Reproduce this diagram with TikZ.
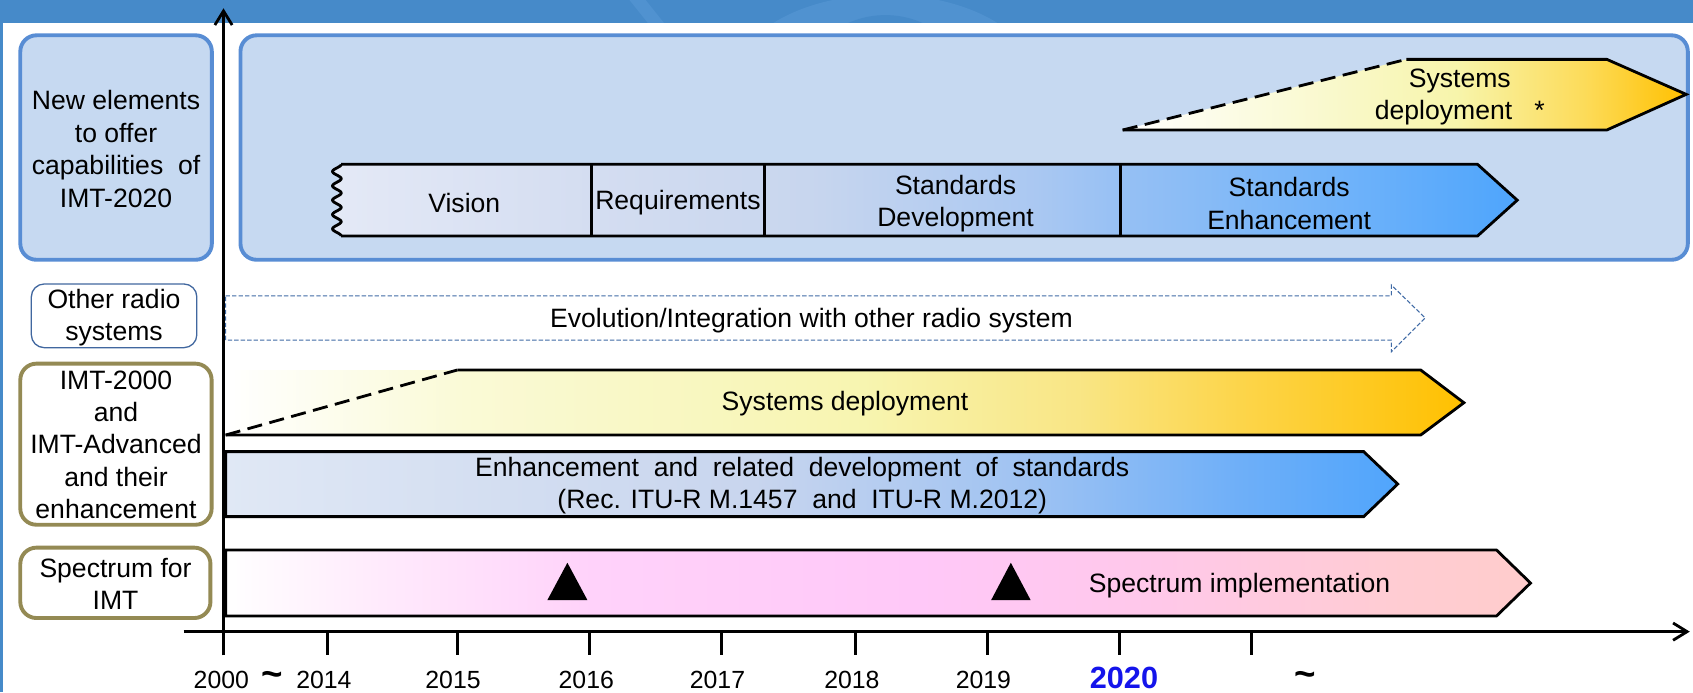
\documentclass[tikz,border=0pt]{standalone}
\usepackage{fontspec}
\setmainfont{Liberation Sans}
\usetikzlibrary{arrows.meta}
\definecolor{band}{RGB}{70,138,201}
\definecolor{bandlight}{RGB}{80,146,208}
\definecolor{boxfill}{RGB}{198,217,241}
\definecolor{boxline}{RGB}{88,141,212}
\definecolor{olive}{RGB}{148,138,84}
\definecolor{otherline}{RGB}{65,103,159}
\definecolor{evoline}{RGB}{63,106,165}
\definecolor{yearblue}{RGB}{20,20,235}
\pgfdeclarehorizontalshading{sdlow}{100bp}{rgb(0bp)=(1,1,1); rgb(25bp)=(1,1,1); rgb(34.6bp)=(0.98,0.98,0.84); rgb(50.8bp)=(0.97,0.96,0.69); rgb(59.5bp)=(0.976,0.90,0.52); rgb(66bp)=(0.99,0.835,0.29); rgb(75bp)=(1,0.753,0); rgb(100bp)=(1,0.753,0)}
\pgfdeclarehorizontalshading{sdtop}{100bp}{rgb(0bp)=(1,1,1); rgb(25bp)=(1,1,1); rgb(40bp)=(0.98,0.98,0.84); rgb(54.7bp)=(0.97,0.96,0.67); rgb(66bp)=(0.99,0.86,0.35); rgb(75bp)=(1,0.753,0); rgb(100bp)=(1,0.753,0)}
\pgfdeclarehorizontalshading{enhsh}{100bp}{rgb(0bp)=(0.878,0.91,0.96); rgb(25bp)=(0.878,0.91,0.96); rgb(47.6bp)=(0.784,0.835,0.933); rgb(59bp)=(0.627,0.765,0.949); rgb(68.3bp)=(0.431,0.686,0.973); rgb(75bp)=(0.314,0.647,0.988); rgb(100bp)=(0.314,0.647,0.988)}
\pgfdeclarehorizontalshading{specsh}{100bp}{rgb(0bp)=(1,1,1); rgb(25bp)=(1,1,1); rgb(30.8bp)=(1,0.92,0.988); rgb(39bp)=(1,0.824,0.98); rgb(51.5bp)=(1,0.784,0.973); rgb(60bp)=(1,0.784,0.92); rgb(70bp)=(1,0.8,0.824); rgb(75bp)=(1,0.8,0.8); rgb(100bp)=(1,0.8,0.8)}
\pgfdeclarehorizontalshading{stdsh}{100bp}{rgb(0bp)=(0.894,0.914,0.965); rgb(25bp)=(0.894,0.914,0.965); rgb(35.9bp)=(0.831,0.867,0.945); rgb(45bp)=(0.784,0.839,0.933); rgb(54.7bp)=(0.667,0.784,0.949); rgb(58.3bp)=(0.588,0.753,0.957); rgb(68bp)=(0.431,0.698,0.98); rgb(75bp)=(0.306,0.647,0.988); rgb(100bp)=(0.306,0.647,0.988)}
\begin{document}
\begin{tikzpicture}[x=0.5pt,y=-0.5pt,
  txt/.style={font=\fontsize{12.3}{15}\selectfont, align=center, inner sep=0pt},
  yr/.style={font=\fontsize{11.5}{13}\selectfont, anchor=base, inner sep=0pt},
  tld/.style={font=\fontsize{17}{17}\bfseries, anchor=base, inner sep=0pt},
  outl/.style={line width=1.3pt, line join=miter},
  thickdash/.style={dash pattern=on 7pt off 3.5pt},
  lblblue/.style={draw=boxline, fill=boxfill, line width=1.8pt, rounded corners=7.5pt},
  lblolive/.style={draw=olive, fill=white, line width=1.8pt, rounded corners=7.5pt},
  lblother/.style={draw=otherline, fill=white, line width=0.6pt, rounded corners=6pt},
  evo/.style={draw=evoline, line width=0.5pt, dash pattern=on 2pt off 1pt},
  axisarrow/.style={line width=1.3pt, -{Straight Barb[length=6.5pt,width=8pt,line width=1.3pt]}},
  tick/.style={line width=1.3pt},
]
\useasboundingbox (0,0) rectangle (1568,641);
\fill[white] (0,0) rectangle (1568,641);
\fill[band] (0,0) rectangle (1568,21.3);
\begin{scope}
  \clip (0,0) rectangle (1568,21.3);
  \fill[bandlight] (820,75) ellipse [x radius=140, y radius=80];
  \fill[band] (820,80) ellipse [x radius=75, y radius=66];
  \fill[bandlight] (583,0) -- (598,0) -- (615,21.3) -- (600,21.3) -- cycle;
\end{scope}
\fill[band] (0,0) rectangle (3.2,641);

% left label boxes
\draw[lblblue] (18.8,32.7) rectangle (196.2,240.6);
\node[txt] (newel) at (107.5,138) {New elements\\to offer\\capabilities\ \ of\\IMT-2020};
\draw[lblother] (29,263) rectangle (182.3,322);
\node[txt] (other) at (105.6,294) {Other radio\\systems};
\draw[lblolive] (18.8,336.8) rectangle (196,486);
\node[txt] (imt) at (107.4,412) {IMT-2000\\and\\IMT-Advanced\\and their\\enhancement};
\draw[lblolive] (18.8,507.2) rectangle (194.9,572.4);
\node[txt] (spec) at (107,541) {Spectrum for\\IMT};

% big container
\draw[lblblue] (222.7,32.7) rectangle (1563.2,240.6);

% top systems deployment
\shade[shading=sdtop] (1039.8,120.4) -- (1302.6,55) -- (1488.2,55) -- (1561.7,87.4) -- (1488.2,120.4) -- cycle;
\draw[outl, thickdash] (1039.8,120.4) -- (1302.6,55);
\draw[outl] (1302.6,55) -- (1488.2,55) -- (1561.7,87.4) -- (1488.2,120.4) -- (1039.8,120.4);
\node[txt] (sdtoptxt) at (1352,90) {Systems\\deployment\ \ \ *};

% standards bar
\shade[shading=stdsh] (316,152.2) -- (1368.4,152.2) -- (1405.2,185.4) -- (1368.4,218.6) -- (316,218.6) -- plot[domain=0:1,samples=120,variable=\t] ({312+4*cos(\t*5*360)},{218.6-66.4*\t}) -- cycle;
\draw[outl] (316,152.2) -- (1368.4,152.2) -- (1405.2,185.4) -- (1368.4,218.6) -- (316,218.6);
\draw[line width=1.3pt] plot[domain=0:1,samples=120,variable=\t] ({312+4*cos(\t*5*360)},{218.6-66.4*\t});
\draw[outl] (547.6,152.2) -- (547.6,218.6);
\draw[outl] (708.1,152.2) -- (708.1,218.6);
\draw[outl] (1037.8,152.2) -- (1037.8,218.6);
\node[txt] (vision) at (430,188) {Vision};
\node[txt] (req) at (627.9,188) {Requirements};
\node[txt] (stddev) at (885,188.5) {Standards\\Development};
\node[txt] (stdenh) at (1194,188.5) {Standards\\Enhancement};

% evolution arrow
\draw[evo] (209,274) -- (1288.6,274) -- (1288.6,264) -- (1320,294.5) -- (1288.6,325.7) -- (1288.6,315) -- (209,315) -- cycle;
\node[txt] (evotxt) at (751.5,296.5) {Evolution/Integration with other radio system};

% lower systems deployment
\shade[shading=sdlow] (209,342.7) -- (1315.8,342.7) -- (1355.8,373) -- (1315.8,402.9) -- (209,402.9) -- cycle;
\draw[outl, thickdash] (209,402.9) -- (423.5,342.7);
\draw[outl] (423.5,342.7) -- (1315.8,342.7) -- (1355.8,373) -- (1315.8,402.9) -- (209,402.9);
\node[txt] (sdlowtxt) at (782.6,374) {Systems deployment};

% enhancement bar
\shadedraw[shading=enhsh, outl] (209,418.3) -- (1263,418.3) -- (1294.5,448.3) -- (1263,478.5) -- (209,478.5) -- cycle;
\node[txt] (enhtxt) at (743,450) {Enhancement\ \ and\ \ related\ \ development\ \ of\ \ standards\\(Rec. ITU-R M.1457\ \ and\ \ ITU-R M.2012)};

% spectrum bar
\shadedraw[shading=specsh, outl] (209,509.4) -- (1386,509.4) -- (1417.5,540) -- (1386,570.5) -- (209,570.5) -- cycle;
\fill (507,555.7) -- (525.5,521.2) -- (544,555.7) -- cycle;
\fill (918,555.7) -- (936.2,521.2) -- (954.5,555.7) -- cycle;
\node[txt] (spectxt) at (1148,542) {Spectrum implementation};

% axes
\draw[axisarrow] (207,607) -- (207,7.7);
\draw[axisarrow] (170,585) -- (1565,585);
\foreach \xx in {303,423.5,546,668.4,792.4,914.4,1037,1159}
  \draw[tick] (\xx,585) -- (\xx,607);

% year labels
\node[yr] (y2000) at (205,637.5) {2000};
\node[tld] (t1) at (252,636) {\textasciitilde};
\node[yr] (y2014) at (300,637.5) {2014};
\node[yr] (y2015) at (419.6,637.5) {2015};
\node[yr] (y2016) at (543,637.5) {2016};
\node[yr] (y2017) at (664.5,637.5) {2017};
\node[yr] (y2018) at (789,637.5) {2018};
\node[yr] (y2019) at (910.8,637.5) {2019};
\node[yr, font=\fontsize{14.2}{15}\bfseries, text=yearblue] (y2020) at (1041,638) {2020};
\node[tld] (t2) at (1209,636) {\textasciitilde};
\end{tikzpicture}
\end{document}
